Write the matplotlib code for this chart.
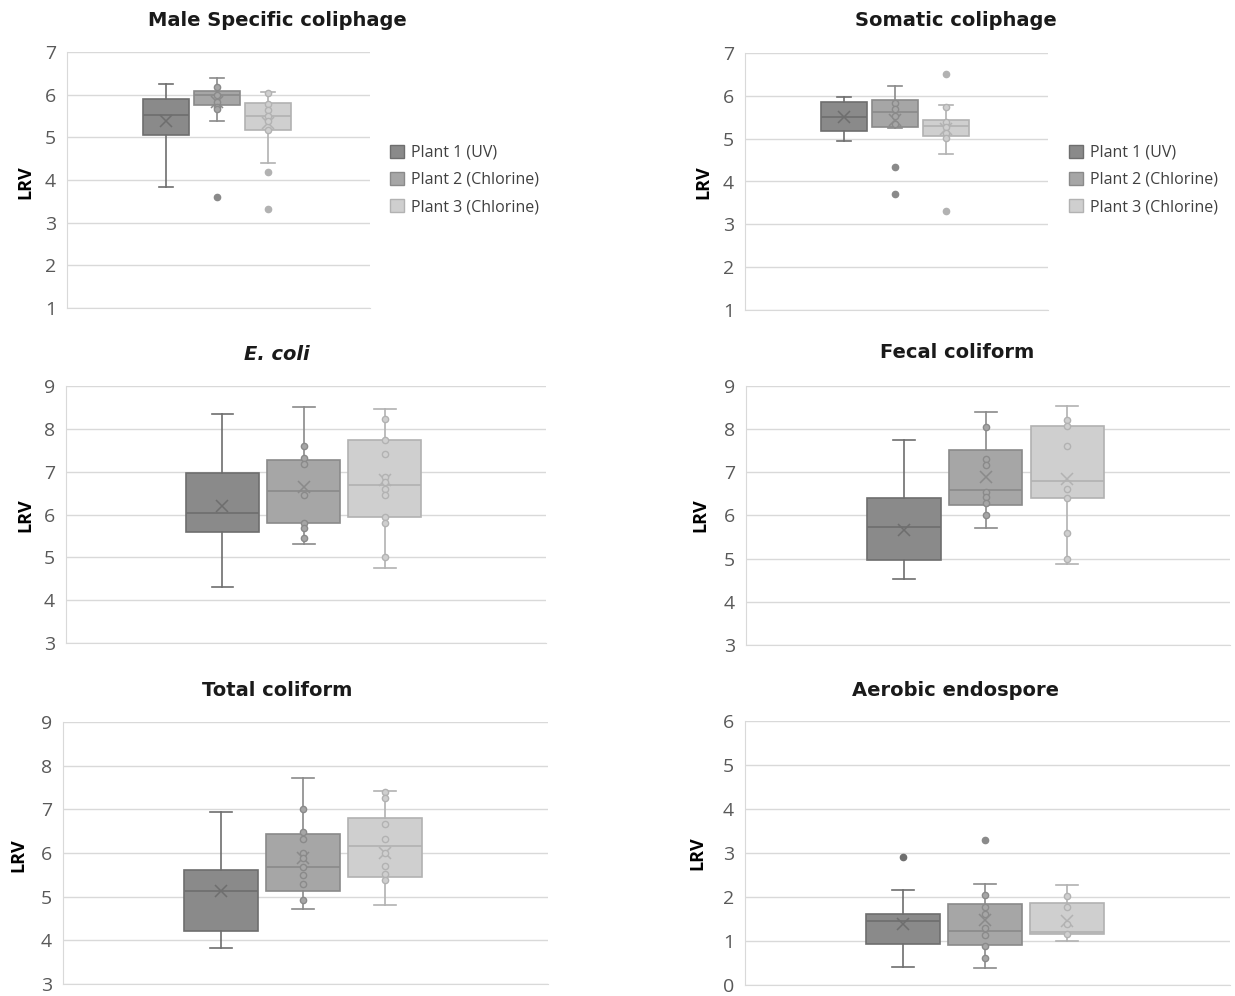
import matplotlib
matplotlib.use("Agg")
import matplotlib.pyplot as plt
from matplotlib.patches import Patch

plt.rcParams['font.family'] = ['Open Sans', 'DejaVu Sans']

W, H = 1235, 996

plants = ['Plant 1 (UV)', 'Plant 2 (Chlorine)', 'Plant 3 (Chlorine)']
fills = ['#8a8a8a', '#a6a6a6', '#cfcfcf']
edges = ['#6e6e6e', '#8a8a8a', '#b2b2b2']

# Male Specific coliphage
ms_whislo = [3.84, 5.39, 4.40]
ms_q1 = [5.06, 5.75, 5.18]
ms_med = [5.53, 6.00, 5.50]
ms_q3 = [5.89, 6.09, 5.80]
ms_whishi = [6.26, 6.38, 6.06]
ms_mean = [5.39, 5.83, 5.34]
ms_inner = [[], [6.17, 6.00, 5.82, 5.70, 5.66], [6.03, 5.77, 5.65, 5.51, 5.39, 5.18]]
ms_out = [[], [3.60], [4.18, 3.31]]

# Somatic coliphage
sc_whislo = [4.94, 5.24, 4.64]
sc_q1 = [5.18, 5.28, 5.06]
sc_med = [5.51, 5.63, 5.30]
sc_q3 = [5.85, 5.91, 5.44]
sc_whishi = [5.98, 6.22, 5.79]
sc_mean = [5.51, 5.44, 5.23]
sc_inner = [[], [5.84, 5.69, 5.54, 5.35], [5.75, 5.38, 5.27, 5.13, 5.01]]
sc_out = [[], [4.33, 3.71], [6.50, 3.31]]

# E. coli
ec_whislo = [4.30, 5.31, 4.76]
ec_q1 = [5.60, 5.79, 5.94]
ec_med = [6.03, 6.56, 6.68]
ec_q3 = [6.97, 7.27, 7.73]
ec_whishi = [8.35, 8.52, 8.46]
ec_mean = [6.21, 6.64, 6.80]
ec_inner = [[], [7.61, 7.31, 7.18, 6.45, 5.81, 5.69, 5.46],
            [8.23, 7.73, 7.42, 6.87, 6.75, 6.60, 6.45, 5.94, 5.81, 5.00]]
ec_out = [[], [], []]

# Fecal coliform
fc_whislo = [4.52, 5.72, 4.88]
fc_q1 = [4.98, 6.24, 6.40]
fc_med = [5.73, 6.59, 6.80]
fc_q3 = [6.41, 7.51, 8.07]
fc_whishi = [7.74, 8.39, 8.53]
fc_mean = [5.66, 6.89, 6.84]
fc_inner = [[], [8.04, 7.32, 7.16, 6.55, 6.43, 6.30, 6.00],
            [8.21, 8.07, 7.60, 6.61, 6.40, 5.59, 4.99]]
fc_out = [[], [], []]

# Total coliform
tc_whislo = [3.83, 4.72, 4.80]
tc_q1 = [4.21, 5.12, 5.46]
tc_med = [5.12, 5.69, 6.15]
tc_q3 = [5.60, 6.43, 6.81]
tc_whishi = [6.95, 7.72, 7.42]
tc_mean = [5.12, 5.88, 5.99]
tc_inner = [[], [7.00, 6.49, 6.31, 6.00, 5.89, 5.69, 5.50, 5.28, 4.92],
            [7.40, 7.25, 6.67, 6.32, 5.99, 5.70, 5.51, 5.38]]
tc_out = [[], [], []]

# Aerobic endospore
ae_whislo = [0.42, 0.39, 0.99]
ae_q1 = [0.94, 0.91, 1.16]
ae_med = [1.45, 1.23, 1.21]
ae_q3 = [1.62, 1.85, 1.87]
ae_whishi = [2.15, 2.30, 2.28]
ae_mean = [1.38, 1.47, 1.45]
ae_inner = [[], [2.05, 1.78, 1.61, 1.29, 1.14, 0.89, 0.62], [2.02, 1.78, 1.38, 1.15]]
ae_out = [[2.91], [3.29], []]

fig = plt.figure(figsize=(W / 100, H / 100), dpi=100)


def add_axes_px(left, right, top, bottom):
    return fig.add_axes([left / W, 1 - bottom / H, (right - left) / W, (bottom - top) / H])


def draw_panel(ax, whislo, q1, med, q3, whishi, mean, inner, out, ymin, ymax):
    for i in range(3):
        st = dict(whislo=whislo[i], q1=q1[i], med=med[i], q3=q3[i],
                  whishi=whishi[i], mean=mean[i], fliers=out[i])
        lw = 1.2
        ax.bxp([st], positions=[i + 1], widths=0.9, capwidths=0.27,
               patch_artist=True, showmeans=True, showfliers=True,
               boxprops=dict(facecolor=fills[i], edgecolor=edges[i], linewidth=lw),
               medianprops=dict(color=edges[i], linewidth=lw),
               whiskerprops=dict(color=edges[i], linewidth=lw),
               capprops=dict(color=edges[i], linewidth=lw),
               meanprops=dict(marker='x', markeredgecolor=edges[i], markersize=9,
                              markeredgewidth=1.1),
               flierprops=dict(marker='o', markerfacecolor=edges[i],
                               markeredgecolor=edges[i], markersize=4.5))
        if inner[i]:
            ax.plot([i + 1] * len(inner[i]), inner[i], 'o', mfc=fills[i],
                    mec=edges[i], ms=4.5, mew=1, zorder=3)

    ax.set_xlim(-0.93, 4.99)
    ax.set_ylim(ymin, ymax)
    ax.set_yticks(range(ymin, ymax + 1))
    ax.set_xticks([])
    ax.yaxis.grid(True, color='#d9d9d9', linewidth=1)
    ax.set_axisbelow(True)
    for s in ['top', 'right']:
        ax.spines[s].set_visible(False)
    for s in ['left', 'bottom']:
        ax.spines[s].set_color('#d9d9d9')
    ax.tick_params(axis='y', length=0, pad=8, labelsize=14, labelcolor='#595959')


panels = [
    ('Male Specific coliphage', 'normal', (67, 370, 52, 308), (277, 20), (25, 182),
     (ms_whislo, ms_q1, ms_med, ms_q3, ms_whishi, ms_mean, ms_inner, ms_out), 1, 7, (390, 180)),
    ('Somatic coliphage', 'normal', (745, 1048, 53, 310), (956, 20), (703, 182),
     (sc_whislo, sc_q1, sc_med, sc_q3, sc_whishi, sc_mean, sc_inner, sc_out), 1, 7, (1069, 180)),
    ('E. coli', 'italic', (66, 546, 386, 643), (277, 354), (25, 515),
     (ec_whislo, ec_q1, ec_med, ec_q3, ec_whishi, ec_mean, ec_inner, ec_out), 3, 9, None),
    ('Fecal coliform', 'normal', (746, 1230, 386, 645), (957, 353), (700, 515),
     (fc_whislo, fc_q1, fc_med, fc_q3, fc_whishi, fc_mean, fc_inner, fc_out), 3, 9, None),
    ('Total coliform', 'normal', (63, 548, 722, 984), (277, 690), (18, 855),
     (tc_whislo, tc_q1, tc_med, tc_q3, tc_whishi, tc_mean, tc_inner, tc_out), 3, 9, None),
    ('Aerobic endospore', 'normal', (745, 1230, 721, 985), (956, 690), (697, 853),
     (ae_whislo, ae_q1, ae_med, ae_q3, ae_whishi, ae_mean, ae_inner, ae_out), 0, 6, None),
]

for title, style, rect, tpos, lpos, stats, ymin, ymax, legpos in panels:
    ax = add_axes_px(*rect)
    draw_panel(ax, *stats, ymin, ymax)
    fig.text(tpos[0] / W, 1 - tpos[1] / H, title, ha='center', va='center',
             fontsize=14, fontweight='bold', fontstyle=style, color='#1a1a1a',
             family='DejaVu Sans')
    fig.text(lpos[0] / W, 1 - lpos[1] / H, 'LRV', ha='center', va='center',
             rotation=90, fontsize=13, fontweight='bold', color='black')
    if legpos:
        handles = [Patch(facecolor=fills[i], edgecolor=edges[i]) for i in range(3)]
        ax.legend(handles, plants, loc='center left',
                  bbox_to_anchor=(legpos[0] / W, 1 - legpos[1] / H),
                  bbox_transform=fig.transFigure, frameon=False, fontsize=11.5,
                  handlelength=0.85, handleheight=0.85, handletextpad=0.45,
                  labelspacing=0.7, borderpad=0, borderaxespad=0,
                  labelcolor='#404040')

fig.savefig('out.png', dpi=100)
